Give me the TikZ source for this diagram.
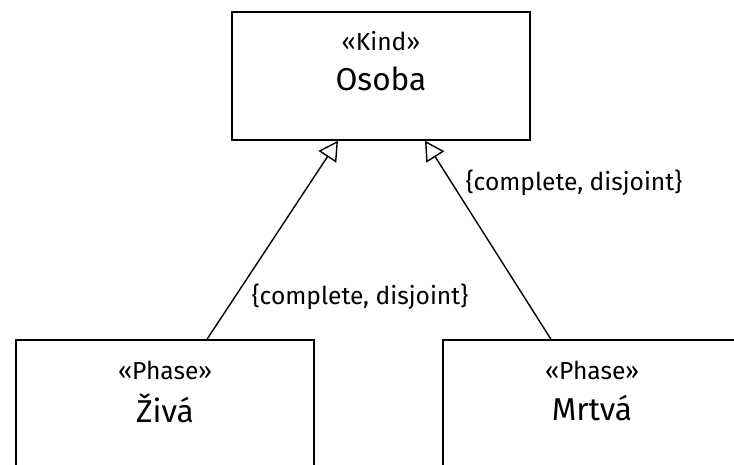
\documentclass[tikz,border=0pt]{standalone}
\usepackage{fontspec}
\setmainfont{Fira Sans}
\usetikzlibrary{arrows.meta}

\tikzset{
  classbox/.style={draw, line width=0.8pt, minimum width=5.96cm, minimum height=2.56cm, inner sep=0pt},
  stereo/.style={inner sep=0pt, font=\fontsize{14}{16}\selectfont},
  cname/.style={inner sep=0pt, font=\fontsize{18}{20}\selectfont},
  genarrow/.style={line width=0.8pt, -{Triangle[open,length=11pt,width=12pt]}},
  constr/.style={inner sep=0pt, font=\fontsize{14}{16}\selectfont}
}

\begin{document}
\begin{tikzpicture}[x=0.02cm,y=-0.02cm]
  \clip (0,0) rectangle (734,465);
  %
  \node[classbox] (osoba) at (381,76) {};
  \node[stereo] (osobast) at (381,41) {«Kind»};
  \node[cname] (osobaname) at (381,79) {Osoba};
  %
  \node[classbox] (ziva) at (165,404) {};
  \node[stereo] (zivast) at (165,370) {«Phase»};
  \node[cname] (zivaname) at (165,408) {Živá};
  %
  \node[classbox] (mrtva) at (592,404) {};
  \node[stereo] (mrtvast) at (592,370) {«Phase»};
  \node[cname] (mrtvaname) at (592,408) {Mrtvá};
  %
  \draw[genarrow] ([xshift=0.84cm]ziva.north) -- ([xshift=-0.86cm]osoba.south);
  \draw[genarrow] ([xshift=-0.82cm]mrtva.north) -- ([xshift=0.88cm]osoba.south);
  %
  \node[constr] (gsleft) at (360,297) {\{complete, disjoint\}};
  \node[constr] (gsright) at (574,183) {\{complete, disjoint\}};
\end{tikzpicture}
\end{document}
